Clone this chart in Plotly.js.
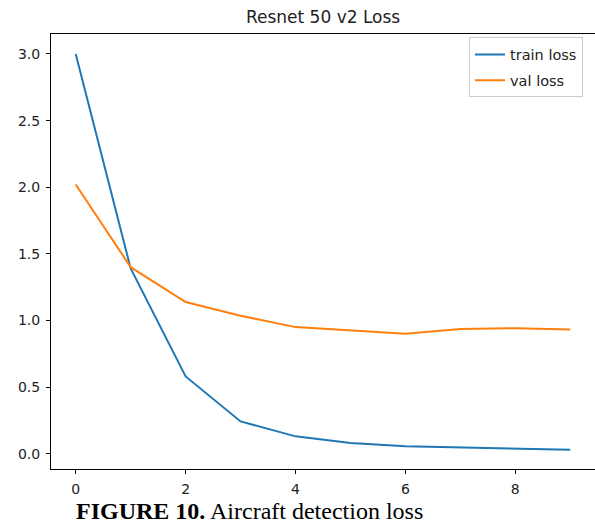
<!DOCTYPE html>
<html>
<head>
<meta charset="utf-8">
<script src="https://cdn.plot.ly/plotly-3.0.1.min.js"></script>
<style>html,body{margin:0;padding:0;background:#fff;}#chart{width:595px;height:526px;}</style>
</head>
<body>
<div id="chart"></div>
<script>
var epochs = [0, 1, 2, 3, 4, 5, 6, 7, 8, 9];
var trainLoss = [3.0, 1.39, 0.58, 0.242, 0.13, 0.08, 0.056, 0.046, 0.036, 0.029];
var valLoss = [2.02, 1.40, 1.138, 1.036, 0.95, 0.925, 0.90, 0.935, 0.942, 0.932];
var xTicks = [0, 2, 4, 6, 8];
var yTicks = [0.0, 0.5, 1.0, 1.5, 2.0, 2.5, 3.0];
var yTickText = ['0.0', '0.5', '1.0', '1.5', '2.0', '2.5', '3.0'];

var traces = [
  {x: epochs, y: trainLoss, type: 'scatter', mode: 'lines', name: 'train loss',
   legendgroup: 'a', line: {color: '#1f77b4', width: 2}},
  {x: epochs, y: valLoss, type: 'scatter', mode: 'lines', name: 'val loss',
   legendgroup: 'b', line: {color: '#ff7f0e', width: 2}}
];

var axisCommon = {
  showgrid: false, zeroline: false, showline: true, mirror: true,
  linecolor: '#000', linewidth: 1, ticks: 'outside', ticklen: 4, tickwidth: 1,
  tickcolor: '#000', ticklabelstandoff: 3,
  tickfont: {family: 'DejaVu Sans', size: 14, color: '#222'}
};

var layout = {
  width: 595, height: 526,
  margin: {l: 51, r: 0, t: 34, b: 57},
  paper_bgcolor: '#fff', plot_bgcolor: '#fff',
  title: {text: 'Resnet 50 v2 Loss', font: {family: 'DejaVu Sans', size: 17, color: '#222'},
          x: 0.543, xanchor: 'center', xref: 'container', y: 1 - 17/526, yanchor: 'middle', yref: 'container'},
  xaxis: Object.assign({}, axisCommon, {range: [-0.45, 9.45], tickvals: xTicks, ticktext: xTicks.map(String)}),
  yaxis: Object.assign({}, axisCommon, {range: [-0.115, 3.15], tickvals: yTicks, ticktext: yTickText}),
  showlegend: true,
  legend: {x: 0.978, xanchor: 'right', y: 0.992, yanchor: 'top',
           bordercolor: '#cccccc', borderwidth: 1, bgcolor: 'rgba(255,255,255,0.8)',
           font: {family: 'DejaVu Sans', size: 14.5, color: '#222'}, tracegroupgap: 4},
  annotations: [{
    xref: 'paper', yref: 'paper', x: 0.042, y: -0.097, xanchor: 'left', yanchor: 'middle',
    showarrow: false, align: 'left',
    text: '<b>FIGURE 10.</b> Aircraft detection loss',
    font: {family: 'Liberation Serif', size: 24, color: '#000'}
  }]
};

Plotly.newPlot('chart', traces, layout, {displayModeBar: false, staticPlot: true});
</script>
</body>
</html>
